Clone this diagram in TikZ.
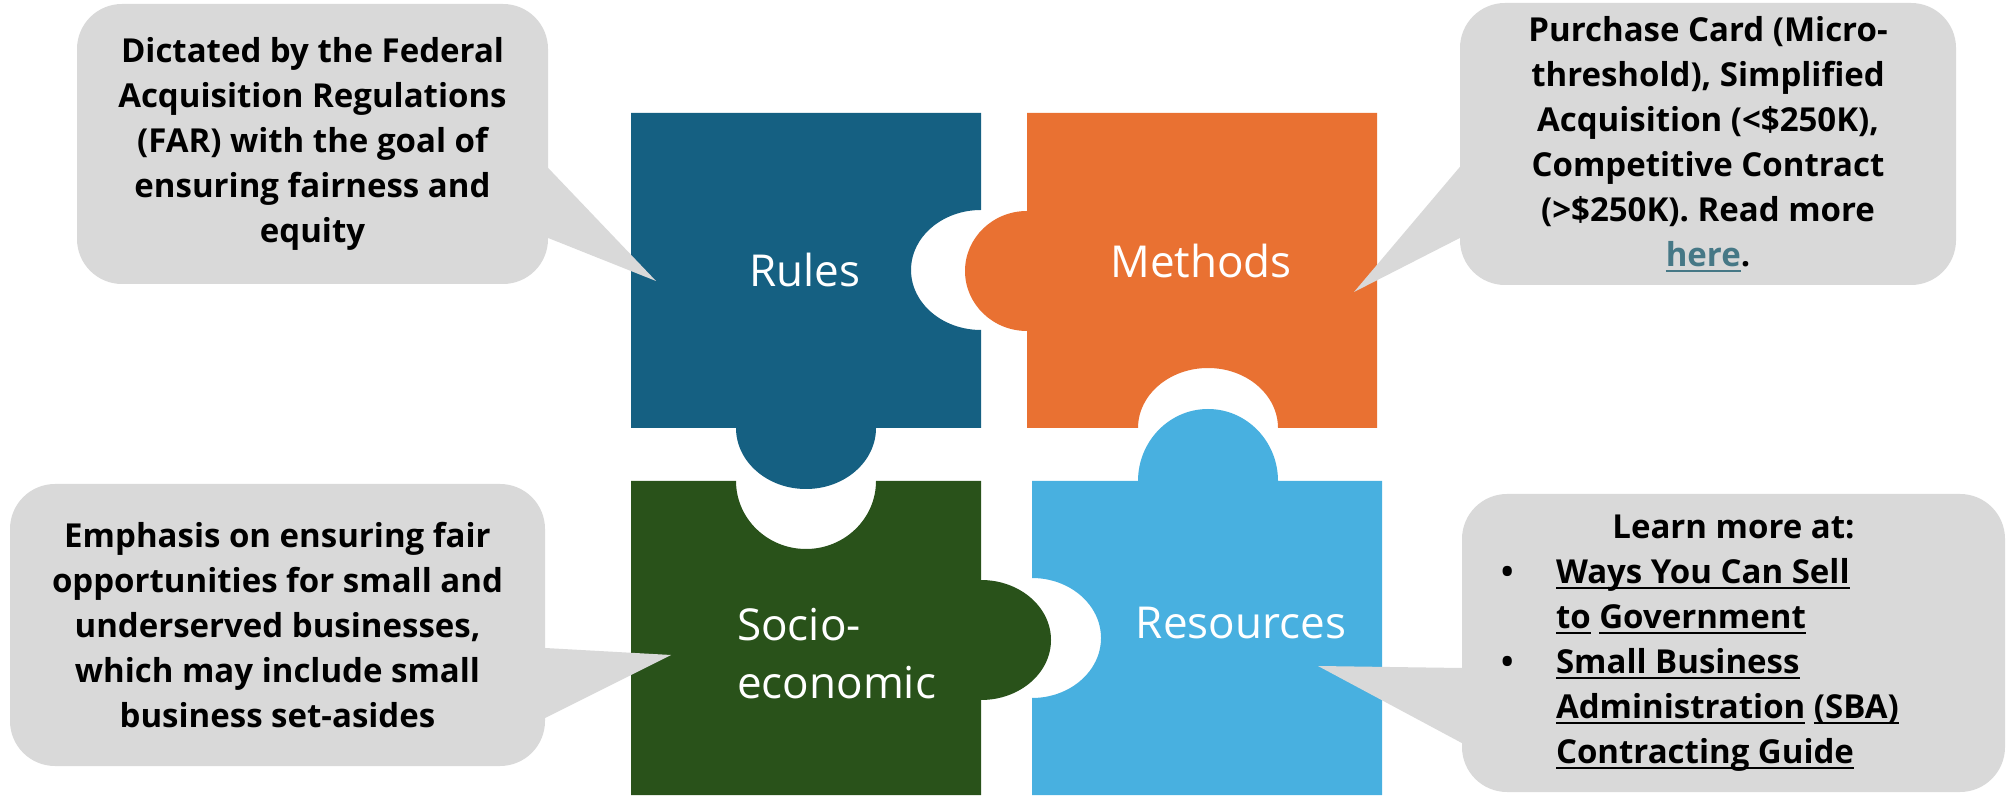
\documentclass[tikz,border=0pt]{standalone}
\usepackage{fontspec}
\setmainfont{Open Sans}
\usepackage{xcolor}
\usepackage{tikz}
\usetikzlibrary{calc}

\definecolor{rulesblue}{HTML}{156082}
\definecolor{methodorange}{HTML}{E97132}
\definecolor{sociogreen}{HTML}{29521A}
\definecolor{resourceblue}{HTML}{48B0E0}
\definecolor{notegray}{HTML}{D9D9D9}
\definecolor{linkteal}{HTML}{467886}

\newcommand{\notefont}{\fontsize{33}{45}\selectfont\bfseries}
\newcommand{\tagfont}{\fontsize{44}{58}\selectfont}
\newsavebox{\undlbox}
\newcommand{\undl}[1]{\sbox{\undlbox}{#1}\rlap{\rule[-6pt]{\wd\undlbox}{2pt}}\usebox{\undlbox}}

\begin{document}
\begin{tikzpicture}[x=1pt, y=1pt,
note/.style={fill=notegray, rounded corners=45pt, inner sep=0pt,
             align=center, font=\notefont},
tag/.style={text=white, inner sep=0pt, font=\tagfont}
]
\path[use as bounding box, fill=white] (0,0) rectangle (2007,795);

% puzzle pieces
\fill[rulesblue] (631,682) -- (981,682) -- (981,585)
  arc[start angle=90, end angle=270, x radius=70, y radius=60]
  -- (981,367) -- (876,367)
  arc[start angle=0, end angle=-180, x radius=70, y radius=61]
  -- (631,367) -- cycle;
\fill[methodorange] (1027,682) -- (1377,682) -- (1377,367) -- (1278,367)
  arc[start angle=0, end angle=180, x radius=70, y radius=60]
  -- (1027,367) -- (1027,464)
  arc[start angle=-90, end angle=-270, x radius=62, y radius=60]
  -- cycle;
\fill[sociogreen] (631,314) -- (736,314)
  arc[start angle=180, end angle=360, x radius=70, y radius=68]
  -- (981,314) -- (981,215)
  arc[start angle=90, end angle=-90, x radius=70, y radius=60]
  -- (981,0) -- (631,0) -- cycle;
\fill[resourceblue] (1032,314) -- (1138,314)
  arc[start angle=180, end angle=0, x radius=70, y radius=72]
  -- (1382,314) -- (1382,0) -- (1032,0) -- (1032,97)
  arc[start angle=-90, end angle=90, x radius=69, y radius=60]
  -- cycle;

\node[tag, anchor=base] (rules) at (805,508) {Rules};
\node[tag, anchor=base] (methods) at (1201,517) {Methods};
\node[tag, anchor=north west, align=left] (socio) at (737,187) {Socio-\\economic};
\node[tag, anchor=base] (resources) at (1241,156) {Resources};

% callouts
\node[note, minimum width=471pt, minimum height=280pt] (farnote) at (312.5,651)
{Dictated by the Federal\\Acquisition Regulations\\(FAR) with the goal of\\
 ensuring fairness and\\equity};
\node[note, minimum width=496pt, minimum height=282pt] (methodnote) at (1708,651)
{Purchase Card (Micro-\\threshold), Simplified\\Acquisition (<\$250K),\\
 Competitive Contract\\(>\$250K). Read more\\\textcolor{linkteal}{\undl{here}}.};
\node[note, minimum width=535pt, minimum height=282pt] (socionote) at (277.5,170)
{Emphasis on ensuring fair\\opportunities for small and\\underserved businesses,\\
 which may include small\\business set-asides};
\node[note, minimum width=543pt, minimum height=298pt] (learnnote) at (1733.5,152)
{\parbox{543pt}{\centering Learn more at:\par\raggedright
 \hspace*{39pt}\makebox[55pt][l]{\textbullet}\undl{Ways You Can Sell}\par
 \hspace*{94pt}\undl{to} \undl{Government}\par
 \hspace*{39pt}\makebox[55pt][l]{\textbullet}\undl{Small Business}\par
 \hspace*{94pt}\undl{Administration} \undl{(SBA)}\par
 \hspace*{94pt}\undl{Contracting Guide}}};

\coordinate (fartip) at (656,514);
\coordinate (methodtip) at (1354,503);
\coordinate (sociotip) at (671,140);
\coordinate (learntip) at (1318,129);

\fill[notegray] ($(farnote.east)+(0,-24)$) -- (fartip) -- ($(farnote.east)+(0,-94)$) -- cycle;
\fill[notegray] ($(methodnote.west)+(0,-23)$) -- (methodtip) -- ($(methodnote.west)+(0,-94)$) -- cycle;
\fill[notegray] ($(socionote.east)+(0,-23)$) -- (sociotip) -- ($(socionote.east)+(0,-93)$) -- cycle;
\fill[notegray] ($(learnnote.west)+(0,-25)$) -- (learntip) -- ($(learnnote.west)+(0,-100)$) -- cycle;
\end{tikzpicture}
\end{document}
